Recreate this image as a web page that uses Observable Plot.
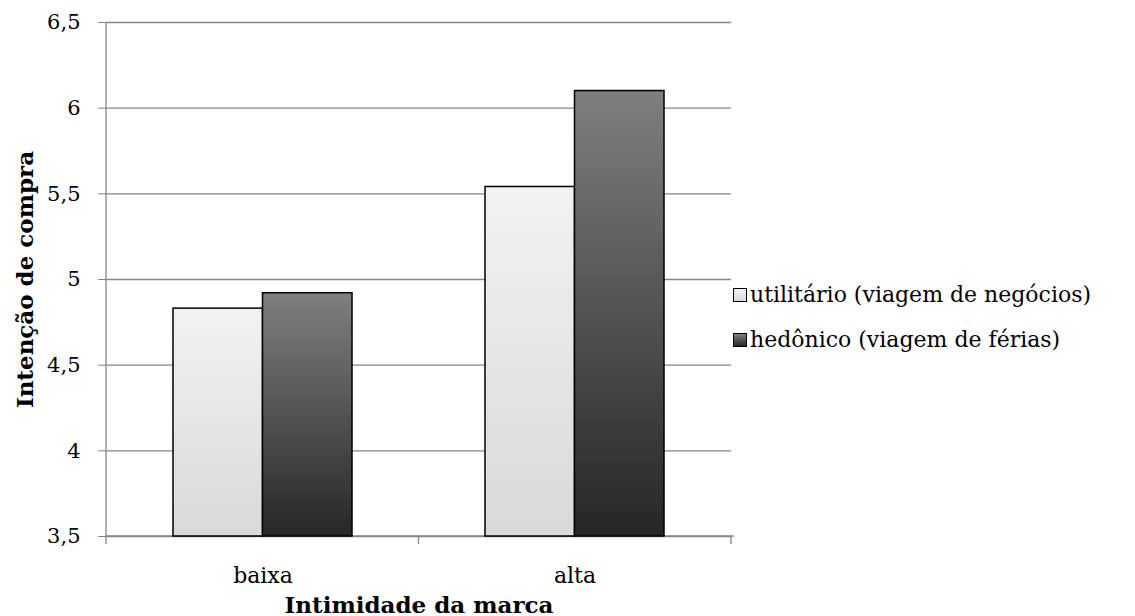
<!DOCTYPE html>
<html><head><meta charset="utf-8">
<script src="https://cdn.jsdelivr.net/npm/d3@7"></script>
<script src="https://cdn.jsdelivr.net/npm/@observablehq/plot@0.6"></script>
<style>
body{margin:0;background:#fff;font-family:"DejaVu Serif",serif;}
#wrap{position:relative;width:1135px;height:616px;}
.legend{position:absolute;left:733px;top:272px;font-size:22px;color:#000;}
.row{display:flex;align-items:center;height:45px;white-space:nowrap;}
.sw{display:inline-block;width:14px;height:14px;border:1px solid #000;margin-right:3px;box-sizing:border-box;}
</style></head><body><div id="wrap"></div>
<script>
const categories = ["baixa", "alta"];
const series = ["utilitário (viagem de negócios)", "hedônico (viagem de férias)"];
const utilitario = [4.83, 5.54];
const hedonico = [4.92, 6.10];
const yTicks = [3.5, 4, 4.5, 5, 5.5, 6, 6.5];
const yTickLabels = ["3,5", "4", "4,5", "5", "5,5", "6", "6,5"];
const xTitle = "Intimidade da marca";
const yTitle = "Intenção de compra";
const gradients = [["#f2f2f2", "#d9d9d9"], ["#7f7f7f", "#262626"]];

const dataU = categories.map((c, i) => ({cat: c, serie: series[0], value: utilitario[i], base: yTicks[0]}));
const dataH = categories.map((c, i) => ({cat: c, serie: series[1], value: hedonico[i], base: yTicks[0]}));

const ns = "http://www.w3.org/2000/svg";
const defsMark = () => {
  const d = document.createElementNS(ns, "defs");
  d.innerHTML = gradients.map((g, i) =>
    `<linearGradient id="grad${i}" x1="0" y1="0" x2="0" y2="1"><stop offset="0" stop-color="${g[0]}"/><stop offset="1" stop-color="${g[1]}"/></linearGradient>`).join("");
  return d;
};

const axisLines = (index, scales, values, dims) => {
  const {width, height, marginLeft: l, marginRight: r, marginTop: t, marginBottom: b} = dims;
  const x1 = width - r, y0 = height - b;
  const g = d3.create("svg:g").attr("stroke", "#868686").attr("stroke-width", 1.3);
  g.append("line").attr("x1", l).attr("x2", l).attr("y1", t).attr("y2", y0);
  g.append("line").attr("x1", l).attr("x2", x1 + 3).attr("y1", y0).attr("y2", y0);
  const n = categories.length;
  for (let k = 0; k <= n; k++) {
    const x = l + k * (x1 - l) / n;
    g.append("line").attr("x1", x).attr("x2", x).attr("y1", y0).attr("y2", y0 + 8);
  }
  return g.node();
};

const bw = 179;
const chart = Plot.plot({
  width: 1135,
  height: 616,
  marginLeft: 106,
  marginRight: 404,
  marginTop: 22,
  marginBottom: 80,
  style: {fontFamily: "DejaVu Serif", fontSize: "20px", background: "#fff"},
  x: {domain: categories, paddingInner: 0.427, paddingOuter: 0.2135, label: null},
  y: {domain: [yTicks[0], yTicks[yTicks.length - 1]], label: null},
  marks: [
    defsMark,
    Plot.gridY(yTicks, {stroke: "#868686", strokeOpacity: 1, strokeWidth: 1.3}),
    axisLines,
    Plot.barY(dataU, {x: "cat", y1: "base", y2: "value", fill: "url(#grad0)", stroke: "#000", strokeWidth: 1.5, insetRight: bw / 2}),
    Plot.barY(dataH, {x: "cat", y1: "base", y2: "value", fill: "url(#grad1)", stroke: "#000", strokeWidth: 1.5, insetLeft: bw / 2}),
    Plot.axisY(yTicks, {tickSize: 8, tickPadding: 18, stroke: "#868686", fill: "#000", fontSize: 21,
      tickFormat: d => yTickLabels[yTicks.indexOf(d)], label: null}),
    Plot.axisY(yTicks, {tickSize: 0, tickFormat: () => "", label: yTitle, labelAnchor: "center", labelOffset: 90,
      labelArrow: "none", fontWeight: "bold", fontSize: 23, fill: "#000"}),
    Plot.axisX({tickSize: 0, tickPadding: 31, fontSize: 22, fill: "#000", label: null}),
    Plot.axisX({tickSize: 0, tickFormat: () => "", label: xTitle, labelAnchor: "center", labelOffset: 76,
      labelArrow: "none", fontWeight: "bold", fontSize: 23, fill: "#000"})
  ]
});

const wrap = document.getElementById("wrap");
wrap.appendChild(chart);
const legend = document.createElement("div");
legend.className = "legend";
series.forEach((s, i) => {
  const row = document.createElement("div");
  row.className = "row";
  const sw = document.createElement("span");
  sw.className = "sw";
  sw.style.background = `linear-gradient(${gradients[i][0]}, ${gradients[i][1]})`;
  row.appendChild(sw);
  row.appendChild(document.createTextNode(s));
  legend.appendChild(row);
});
wrap.appendChild(legend);
</script>
</body></html>
